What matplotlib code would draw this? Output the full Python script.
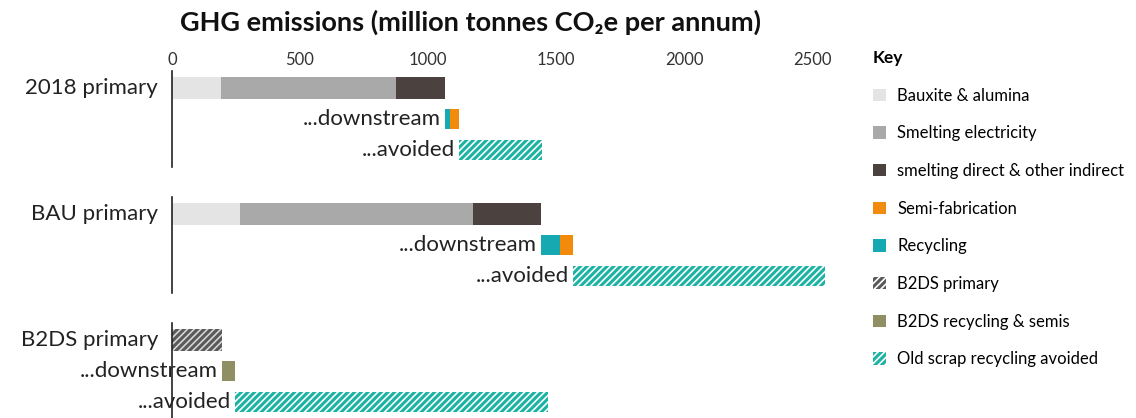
import numpy as np
import matplotlib.pyplot as plt
from matplotlib.patches import Patch

plt.rcParams['font.family'] = ['Lato', 'DejaVu Sans']
plt.rcParams['hatch.linewidth'] = 2.2

# Datos (millones de toneladas CO2e por año)
escenarios = ['2018 primary', 'BAU primary', 'B2DS primary']
bauxita = [190, 265, 0]
electricidad = [685, 910, 0]
directo = [190, 265, 0]
b2ds_primario = [0, 0, 195]
reciclaje = [22, 75, 0]
semis = [33, 50, 0]
b2ds_reciclaje = [0, 0, 50]
evitado = [325, 985, 1225]
ticks = [0, 500, 1000, 1500, 2000, 2500]

c_baux = '#e4e4e4'
c_elec = '#a9a9a9'
c_dir = '#4b413e'
c_semi = '#f28a0c'
c_rec = '#17a9b1'
c_b2ds_rec = '#8f8f63'
c_evit = '#1cb3a3'
c_b2ds = '#5a5a5a'
rayado = '/////'

fig = plt.figure(figsize=(11.36, 4.18), dpi=100)
ax = fig.add_axes([172/1136, 0, (825-172)/1136, 346/418])

grupo = 4.06
h1, h2 = 0.72, 0.64
for i, esc in enumerate(escenarios):
    y0 = i * grupo
    # fila primaria
    left = 0
    for val, col in [(bauxita[i], c_baux), (electricidad[i], c_elec), (directo[i], c_dir)]:
        if val > 0:
            ax.barh(y0, val, left=left, height=h1, color=col, lw=0)
            left += val
    if b2ds_primario[i] > 0:
        ax.barh(y0, b2ds_primario[i], left=0, height=h1, color='#d6d6d6',
                edgecolor=c_b2ds, hatch=rayado, lw=0)
        left += b2ds_primario[i]
    ax.annotate(esc, (0, y0), xytext=(-10, 0), textcoords='offset points',
                ha='right', va='center', fontsize=16, color='#222222')
    # downstream
    d0 = left
    for val, col in [(reciclaje[i], c_rec), (semis[i], c_semi), (b2ds_reciclaje[i], c_b2ds_rec)]:
        if val > 0:
            ax.barh(y0 + 1, val, left=left, height=h2, color=col, lw=0)
            left += val
    ax.annotate('...downstream', (d0, y0 + 1), xytext=(-3, 0), textcoords='offset points',
                ha='right', va='center', fontsize=16, color='#222222')
    # evitado
    ax.barh(y0 + 2, evitado[i], left=left, height=h2, color='white',
            edgecolor=c_evit, hatch=rayado, lw=0)
    ax.annotate('...avoided', (left, y0 + 2), xytext=(-3, 0), textcoords='offset points',
                ha='right', va='center', fontsize=16, color='#222222')
    # linea del eje por grupo
    ax.plot([0, 0], [y0 - 0.55 if i else -0.55, y0 + 2.55], color='#222222', lw=1.2, clip_on=False)

ax.set_xlim(0, 2550)
ax.set_ylim(2 * grupo + 2.52, -0.52)
ax.xaxis.tick_top()
ax.set_xticks(ticks)
ax.set_xticklabels([str(t) for t in ticks], fontsize=12, color='#333333')
ax.tick_params(axis='x', length=0, pad=3)
ax.set_yticks([])
for s in ax.spines.values():
    s.set_visible(False)

fig.text(470/1136, 1 - 22/418, 'GHG emissions (million tonnes CO₂e per annum)',
         ha='center', va='center', fontsize=19.5, fontweight='bold', color='#111111')

handles = [
    Patch(facecolor=c_baux, lw=0, label='Bauxite & alumina'),
    Patch(facecolor=c_elec, lw=0, label='Smelting electricity'),
    Patch(facecolor=c_dir, lw=0, label='smelting direct & other indirect'),
    Patch(facecolor=c_semi, lw=0, label='Semi-fabrication'),
    Patch(facecolor=c_rec, lw=0, label='Recycling'),
    Patch(facecolor='white', edgecolor=c_b2ds, hatch=rayado, lw=0, label='B2DS primary'),
    Patch(facecolor=c_b2ds_rec, lw=0, label='B2DS recycling & semis'),
    Patch(facecolor='white', edgecolor=c_evit, hatch=rayado, lw=0, label='Old scrap recycling avoided'),
]
leg = fig.legend(handles=handles, loc='upper left', bbox_to_anchor=(858/1136, 1 - 35/418),
                 frameon=False, title='Key', alignment='left', fontsize=12,
                 handlelength=0.75, handleheight=0.75, handletextpad=0.7,
                 labelspacing=1.3)
leg.get_title().set_fontweight('bold')
leg.get_title().set_fontsize(12.5)

plt.savefig('out.png', dpi=100, facecolor='white')
